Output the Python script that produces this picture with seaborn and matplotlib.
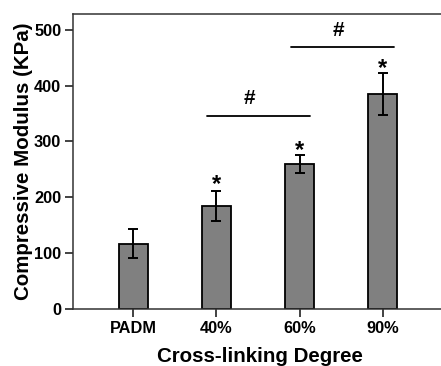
import numpy as np
import pandas as pd
import seaborn as sns
import matplotlib.pyplot as plt

groups = ['PADM', '40%', '60%', '90%']
modulus = [117, 185, 259, 385]
errors = [26, 27, 16, 37]

star_groups = [1, 2, 3]
star_y = [222, 284, 430]

bracket_pairs = [(0.89, 2.12), (1.9, 3.13)]
bracket_y = [346, 469]
hash_x = [1.4, 2.46]
hash_y = [360, 482]

sns.set_style('ticks')
plt.rcParams['font.family'] = ['Liberation Sans', 'DejaVu Sans']
plt.rcParams['font.weight'] = 'bold'
plt.rcParams['text.color'] = 'black'
plt.rcParams['axes.labelcolor'] = 'black'
plt.rcParams['xtick.color'] = 'black'
plt.rcParams['ytick.color'] = 'black'

df = pd.DataFrame({'group': groups, 'modulus': modulus})

fig = plt.figure(figsize=(4.41, 3.66), dpi=100)
ax = fig.add_axes([0.1655, 0.1557, 0.85, 0.806])

sns.barplot(data=df, x='group', y='modulus', color='#808080', width=0.35,
            edgecolor='black', linewidth=1.3, saturation=1, errorbar=None, ax=ax)
ax.errorbar(np.arange(len(groups)), modulus, yerr=errors, fmt='none',
            ecolor='black', elinewidth=1.4, capsize=3.5, capthick=1.4)

for g, y in zip(star_groups, star_y):
    ax.text(g, y, '*', ha='center', va='center', fontsize=17, fontweight='bold')
for (x0, x1), y in zip(bracket_pairs, bracket_y):
    ax.plot([x0, x1], [y, y], color='black', lw=1.3)
for x, y in zip(hash_x, hash_y):
    ax.text(x, y, '#', ha='center', va='bottom', fontsize=15, fontweight='bold')

ax.set_xlim(-0.724, 3.78)
ax.set_ylim(0, 528)
ax.set_yticks([0, 100, 200, 300, 400, 500])
ax.set_xlabel('Cross-linking Degree', fontsize=14.8, fontweight='bold', labelpad=8)
ax.set_ylabel('Compressive Modulus (KPa)', fontsize=14.8, fontweight='bold', labelpad=1)
ax.tick_params(axis='both', direction='out', length=6, width=1.2, labelsize=11.8,
               pad=2.5, color='#222222', labelcolor='black')
for lab in ax.get_xticklabels() + ax.get_yticklabels():
    lab.set_fontweight('bold')
for side in ['top', 'right', 'left', 'bottom']:
    ax.spines[side].set_visible(True)
    ax.spines[side].set_linewidth(1.1)
    ax.spines[side].set_color('#333333')

fig.savefig('out.png', dpi=100)
